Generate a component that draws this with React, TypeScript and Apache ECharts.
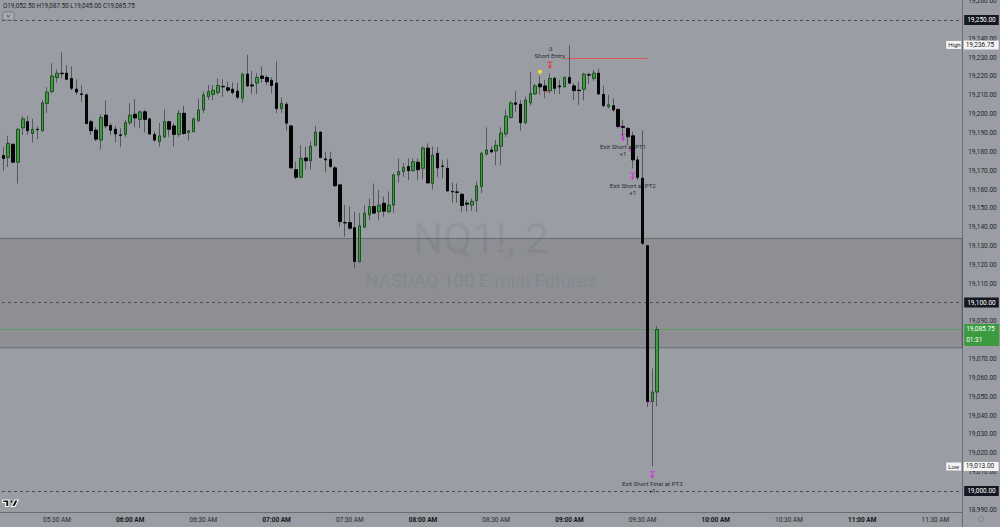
import React, { useEffect, useRef } from 'react';
import * as echarts from 'echarts';

// ---------- data ----------
const START_MINUTE = 5 * 60 + 6; // first visible 2-minute bar 05:06
const BAR_MINUTES = 2;
const SLOT_COUNT = 198; // bars + empty future slots up to 11:40

// [open, high, low, close]
const ohlc: [number, number, number, number][] = [
  [19188.5, 19190.0, 19176.0, 19178.25],
  [19178.0, 19182.75, 19170.0, 19176.5],
  [19177.0, 19188.5, 19172.0, 19184.5],
  [19184.0, 19184.5, 19174.0, 19174.5],
  [19174.5, 19192.5, 19163.25, 19192.0],
  [19192.75, 19199.0, 19189.0, 19197.5],
  [19196.0, 19199.0, 19189.0, 19191.25],
  [19189.75, 19197.5, 19185.0, 19192.0],
  [19192.0, 19193.5, 19186.75, 19191.75],
  [19191.25, 19207.5, 19190.75, 19206.0],
  [19205.75, 19214.25, 19200.75, 19211.75],
  [19212.0, 19227.0, 19211.0, 19220.25],
  [19219.5, 19223.75, 19216.75, 19221.75],
  [19221.75, 19232.75, 19219.0, 19221.5],
  [19221.75, 19226.0, 19218.5, 19218.5],
  [19219.0, 19225.25, 19212.75, 19213.75],
  [19213.25, 19218.5, 19210.25, 19211.75],
  [19210.75, 19215.5, 19206.5, 19210.5],
  [19210.25, 19211.0, 19194.75, 19195.0],
  [19196.0, 19197.0, 19189.0, 19191.25],
  [19191.5, 19193.0, 19185.75, 19186.75],
  [19186.25, 19200.0, 19181.25, 19198.25],
  [19199.5, 19207.25, 19192.5, 19193.75],
  [19194.0, 19195.25, 19189.0, 19191.5],
  [19192.0, 19193.75, 19185.0, 19189.5],
  [19189.0, 19192.5, 19182.5, 19188.75],
  [19189.25, 19197.0, 19188.0, 19195.5],
  [19195.5, 19205.75, 19194.25, 19199.5],
  [19200.0, 19208.0, 19193.0, 19198.0],
  [19197.25, 19201.75, 19192.5, 19201.25],
  [19201.25, 19202.25, 19190.25, 19197.25],
  [19197.5, 19198.25, 19189.0, 19189.5],
  [19189.25, 19190.75, 19185.5, 19186.25],
  [19185.5, 19195.25, 19182.75, 19188.5],
  [19188.0, 19202.5, 19187.25, 19196.0],
  [19196.0, 19196.5, 19188.0, 19192.0],
  [19193.75, 19195.25, 19183.0, 19189.25],
  [19189.25, 19202.25, 19188.0, 19200.5],
  [19200.5, 19204.5, 19189.0, 19189.75],
  [19190.25, 19191.5, 19186.0, 19191.25],
  [19190.75, 19198.25, 19190.25, 19197.5],
  [19196.5, 19208.0, 19196.0, 19202.25],
  [19202.25, 19212.0, 19200.5, 19210.25],
  [19209.25, 19215.5, 19207.5, 19212.0],
  [19210.5, 19215.5, 19207.5, 19212.75],
  [19211.5, 19219.0, 19210.25, 19215.25],
  [19214.75, 19218.5, 19209.25, 19214.5],
  [19214.0, 19217.25, 19211.5, 19212.75],
  [19213.25, 19216.75, 19210.25, 19211.5],
  [19212.25, 19216.75, 19208.0, 19209.0],
  [19208.5, 19222.0, 19206.0, 19221.25],
  [19221.25, 19231.5, 19214.5, 19215.0],
  [19215.5, 19223.0, 19210.75, 19215.0],
  [19216.5, 19221.75, 19210.75, 19219.5],
  [19220.25, 19225.5, 19216.75, 19219.0],
  [19219.5, 19220.75, 19215.5, 19217.25],
  [19218.0, 19219.5, 19211.0, 19215.25],
  [19216.5, 19228.0, 19200.5, 19203.0],
  [19203.0, 19209.0, 19200.75, 19205.75],
  [19205.25, 19206.5, 19191.25, 19195.25],
  [19193.75, 19194.25, 19171.25, 19171.5],
  [19170.5, 19174.75, 19165.5, 19166.5],
  [19166.5, 19183.5, 19166.0, 19176.5],
  [19176.75, 19182.75, 19170.75, 19175.25],
  [19175.25, 19185.5, 19170.5, 19183.0],
  [19183.5, 19193.75, 19183.0, 19190.5],
  [19190.5, 19190.75, 19176.5, 19177.0],
  [19176.25, 19180.0, 19169.0, 19175.75],
  [19176.0, 19180.0, 19171.25, 19172.25],
  [19171.5, 19172.5, 19161.5, 19162.0],
  [19162.5, 19162.5, 19140.25, 19143.0],
  [19142.5, 19151.75, 19135.0, 19142.25],
  [19142.5, 19151.0, 19138.5, 19139.5],
  [19139.75, 19148.25, 19118.25, 19121.75],
  [19121.75, 19147.5, 19121.25, 19140.75],
  [19140.0, 19151.75, 19139.5, 19147.5],
  [19146.5, 19155.25, 19143.75, 19151.0],
  [19151.0, 19163.25, 19147.0, 19147.5],
  [19148.25, 19159.75, 19143.75, 19151.75],
  [19152.75, 19156.25, 19145.5, 19148.5],
  [19148.25, 19159.0, 19147.5, 19151.75],
  [19151.75, 19168.5, 19147.75, 19167.75],
  [19167.75, 19176.5, 19163.75, 19169.5],
  [19169.5, 19174.0, 19166.75, 19171.75],
  [19172.25, 19176.5, 19165.0, 19170.0],
  [19170.0, 19176.5, 19169.5, 19174.75],
  [19174.5, 19176.5, 19165.0, 19170.5],
  [19171.25, 19183.0, 19165.5, 19182.0],
  [19182.0, 19184.5, 19163.25, 19163.5],
  [19163.25, 19182.75, 19160.0, 19178.25],
  [19179.25, 19182.75, 19166.5, 19171.5],
  [19172.5, 19175.75, 19166.0, 19172.25],
  [19171.25, 19176.0, 19159.0, 19159.25],
  [19159.0, 19163.75, 19153.0, 19158.75],
  [19158.75, 19163.25, 19153.0, 19158.5],
  [19157.5, 19158.0, 19148.25, 19151.5],
  [19152.75, 19154.5, 19148.25, 19152.25],
  [19151.75, 19155.25, 19148.75, 19153.75],
  [19154.0, 19164.25, 19148.25, 19162.0],
  [19161.5, 19180.0, 19158.0, 19179.25],
  [19178.75, 19193.0, 19178.25, 19181.0],
  [19181.0, 19183.0, 19179.25, 19180.0],
  [19180.5, 19186.5, 19173.0, 19183.5],
  [19183.0, 19193.0, 19173.0, 19190.0],
  [19189.5, 19202.25, 19188.0, 19199.0],
  [19198.25, 19207.0, 19197.75, 19206.0],
  [19206.0, 19212.25, 19201.25, 19205.25],
  [19205.25, 19207.5, 19191.25, 19195.5],
  [19195.5, 19209.25, 19194.75, 19207.5],
  [19206.0, 19222.5, 19204.5, 19211.0],
  [19210.75, 19216.0, 19210.25, 19215.0],
  [19216.0, 19220.25, 19210.25, 19214.5],
  [19215.0, 19218.25, 19208.5, 19212.5],
  [19212.5, 19221.75, 19211.0, 19219.0],
  [19219.0, 19220.0, 19210.75, 19213.75],
  [19215.0, 19218.25, 19210.75, 19214.5],
  [19214.5, 19220.0, 19214.25, 19219.5],
  [19219.5, 19236.75, 19216.0, 19216.5],
  [19215.0, 19216.5, 19207.5, 19212.5],
  [19212.75, 19217.25, 19205.0, 19212.5],
  [19213.25, 19222.0, 19207.25, 19221.25],
  [19221.0, 19222.0, 19216.0, 19220.75],
  [19219.0, 19223.5, 19217.75, 19221.75],
  [19221.75, 19224.25, 19210.25, 19210.75],
  [19210.5, 19215.0, 19203.75, 19204.5],
  [19204.0, 19210.25, 19203.0, 19205.0],
  [19204.5, 19208.5, 19201.25, 19202.25],
  [19202.5, 19203.0, 19192.5, 19193.5],
  [19193.5, 19197.0, 19188.0, 19193.0],
  [19192.5, 19193.0, 19183.5, 19188.0],
  [19188.5, 19190.75, 19171.25, 19175.75],
  [19175.75, 19178.0, 19165.0, 19166.5],
  [19166.0, 19191.5, 19130.5, 19131.5],
  [19130.25, 19130.5, 19044.5, 19047.5],
  [19047.5, 19065.0, 19013.0, 19052.5],
  [19052.5, 19087.5, 19045.0, 19085.75],
];

const alertLevels = [19250, 19100, 19000];
const lastPrice = 19085.75;
const countdownText = '01:31';
const sessionHigh = 19236.75;
const sessionLow = 19013.0;
const zoneTop = 19134;
const zoneBottom = 19076;
const entryLineStartBar = 116;
const entryLineEndBar = 133;
const entryLinePrice = 19229.5;
const signalDot = { bar: 111, price: 19222.5 };
const strategyMarks = [
  { bar: 113, price: 19226.0, text: '-3\nShort Entry', side: 'entry' },
  { bar: 128, price: 19187.6, text: 'Exit Short at PT1\n+1', side: 'exit' },
  { bar: 130, price: 19167.0, text: 'Exit Short at PT2\n+1', side: 'exit' },
  { bar: 134, price: 19008.5, text: 'Exit Short Final at PT3\n+1', side: 'exit' },
];
const fillTicks = [
  { bar: 113, price: 19212.3, side: 'entry' },
  { bar: 128, price: 19193.4, side: 'exit' },
  { bar: 130, price: 19181.0, side: 'exit' },
  { bar: 134, price: 19047.4, side: 'exit' },
];
const headerText = 'O19,052.50 H19,087.50 L19,045.00 C19,085.75';
const watermarkTitle = 'NQ1!, 2';
const watermarkSubtitle = 'NASDAQ 100 E-mini Futures';

// ---------- styling ----------
const BG = '#9b9da4';
const FONT = 'Roboto, "Noto Sans", "DejaVu Sans", sans-serif';
const TEXT = '#1c1d22';
const AXIS = '#6b6d73';
const UP = '#3f9c43';
const UP_BORDER = '#1d4f20';
const DOWN = '#050505';
const WICK = '#55575d';
const MAGENTA = '#d633e8';
const RED = '#e53935';

const pad2 = (n: number) => String(n).padStart(2, '0');
const times = Array.from({ length: SLOT_COUNT }, (_, i) => {
  const m = START_MINUTE + i * BAR_MINUTES;
  return `${pad2(Math.floor(m / 60))}:${pad2(m % 60)}`;
});
const fmtPrice = (v: number) =>
  v.toLocaleString('en-US', { minimumFractionDigits: 2, maximumFractionDigits: 2 });

const wickData = ohlc.map(([o, h, l, c]) => [o, c, l, h]);
const bodyData = ohlc.map(([o, , , c]) => [o, c, Math.min(o, c), Math.max(o, c)]);

const ARROW = 'path://M0,0H10V2H6V9H9L5,16L1,9H4V2H0Z';

function buildOption(): any {
  const priceBox = {
    show: true,
    position: 'end',
    distance: [2, 0],
    backgroundColor: '#131722',
    color: '#ffffff',
    padding: [2, 3, 1, 3],
    fontSize: 6.5,
    fontFamily: FONT,
  };
  const markLineData: any[] = [
    ...alertLevels.map((v) => ({
      yAxis: v,
      lineStyle: { type: [3, 3], color: '#4d4f55', width: 1 },
      label: { ...priceBox, formatter: fmtPrice(v) },
    })),
    {
      yAxis: lastPrice,
      lineStyle: { type: 'solid', color: '#5d9960', width: 1 },
      label: {
        show: true,
        position: 'end',
        distance: [2, 0],
        formatter: `{s| }\n{a|${fmtPrice(lastPrice)}}\n{b|${countdownText}}`,
        rich: {
          s: { height: 11, lineHeight: 11, fontSize: 6.5 },
          a: {
            width: 31, height: 11, lineHeight: 11, padding: [0, 2], align: 'left',
            backgroundColor: '#3c9a40', color: '#fff', fontSize: 6.5, fontFamily: FONT,
          },
          b: {
            width: 31, height: 11, lineHeight: 11, padding: [0, 2], align: 'left',
            backgroundColor: '#3c9a40', color: '#fff', fontSize: 6.5, fontFamily: FONT,
          },
        },
      },
    },
    ...[
      { v: sessionHigh, name: 'High' },
      { v: sessionLow, name: 'Low' },
    ].map(({ v, name }) => ({
      yAxis: v,
      lineStyle: { color: 'rgba(0,0,0,0)', width: 0 },
      label: {
        show: true,
        position: 'end',
        distance: [-16, 0],
        formatter: `{h|${name}}{g| }{v|${fmtPrice(v)}}`,
        rich: {
          h: {
            width: 11, padding: [1, 2], backgroundColor: '#f4f4f6', color: TEXT,
            fontSize: 6, fontFamily: FONT, align: 'left',
          },
          g: { width: 2.5, fontSize: 6 },
          v: {
            width: 31, padding: [1, 2], backgroundColor: '#f4f4f6', color: TEXT,
            fontSize: 6.5, fontFamily: FONT, align: 'left',
          },
        },
      },
    })),
    [
      {
        coord: [entryLineStartBar, entryLinePrice],
        lineStyle: { type: 'solid', color: '#e25555', width: 1 },
        label: { show: false },
      },
      { coord: [entryLineEndBar, entryLinePrice] },
    ],
  ];

  const markPointData: any[] = [
    {
      coord: [signalDot.bar, signalDot.price],
      symbol: 'circle',
      symbolSize: 4,
      itemStyle: { color: '#f2e22c' },
      label: { show: false },
    },
    ...strategyMarks.map((m) => ({
      coord: [m.bar, m.price],
      symbol: ARROW,
      symbolSize: [5, 7.5],
      itemStyle: { color: m.side === 'entry' ? RED : MAGENTA },
      label: {
        show: true,
        formatter: m.text,
        position: m.side === 'entry' ? 'top' : 'bottom',
        distance: 2,
        fontSize: 6.2,
        lineHeight: 7,
        color: '#2b2c31',
        fontFamily: FONT,
        align: 'center',
      },
    })),
    ...fillTicks.map((f) => ({
      coord: [f.bar, f.price],
      symbol: 'triangle',
      symbolRotate: -90,
      symbolOffset: [-2, 0],
      symbolSize: [3, 3],
      itemStyle: { color: f.side === 'entry' ? RED : MAGENTA },
      label: { show: false },
    })),
  ];

  return {
    animation: false,
    backgroundColor: BG,
    textStyle: { fontFamily: FONT },
    grid: { left: -4.02, right: 37.8, top: 0, bottom: 15, outerBoundsMode: 'none', containLabel: false },
    xAxis: {
      type: 'category',
      data: times,
      boundaryGap: true,
      axisLine: { show: true, lineStyle: { color: AXIS, width: 1 } },
      axisTick: { show: false },
      splitLine: { show: false },
      axisLabel: {
        margin: 4,
        interval: (_i: number, v: string) => v.endsWith(':00') || v.endsWith(':30'),
        formatter: (v: string) => (v.endsWith(':00') ? `{b|${v} AM}` : `{n|${v} AM}`),
        rich: {
          b: { fontSize: 6.5, fontWeight: 'bold', color: '#15161a', fontFamily: FONT },
          n: { fontSize: 6.5, color: '#2a2b30', fontFamily: FONT },
        },
      },
    },
    yAxis: {
      type: 'value',
      position: 'right',
      min: 18988.85,
      max: 19260.6,
      splitNumber: 27,
      axisLine: { show: true, lineStyle: { color: AXIS, width: 1 } },
      axisTick: { show: false },
      splitLine: { show: false },
      axisLabel: {
        margin: 6,
        fontSize: 6.5,
        color: '#25262b',
        fontFamily: FONT,
        showMinLabel: false,
        showMaxLabel: false,
        formatter: (v: number) =>
          Math.abs(v / 10 - Math.round(v / 10)) < 1e-6 ? fmtPrice(v) : '',
      },
    },
    graphic: [
      {
        type: 'text', x: 481, y: 238, z: 0, silent: true,
        style: {
          text: watermarkTitle, fontSize: 42, fontFamily: FONT,
          fill: 'rgba(60,62,70,0.11)', align: 'center', verticalAlign: 'middle',
        },
      },
      {
        type: 'text', x: 481, y: 281, z: 0, silent: true,
        style: {
          text: watermarkSubtitle, fontSize: 18.5, fontFamily: FONT,
          fill: 'rgba(60,62,70,0.11)', align: 'center', verticalAlign: 'middle',
        },
      },
      {
        type: 'text', x: 3, y: 6, z: 10, silent: true,
        style: { text: headerText, fontSize: 6.3, fontFamily: FONT, fill: '#1e1f24', verticalAlign: 'middle' },
      },
      {
        type: 'rect', z: 10, silent: true,
        shape: { x: 2.7, y: 12, width: 11.3, height: 8, r: 1.5 },
        style: { fill: 'rgba(255,255,255,0.15)', stroke: '#6f7177', lineWidth: 0.8 },
      },
      {
        type: 'polyline', z: 11, silent: true,
        shape: { points: [[6.6, 15.2], [8.35, 16.8], [10.1, 15.2]] },
        style: { stroke: '#2a2b30', lineWidth: 0.8, fill: null },
      },
      {
        type: 'line', z: 10, silent: true,
        shape: { x1: 962.5, y1: 512, x2: 962.5, y2: 527 },
        style: { stroke: AXIS, lineWidth: 1 },
      },
      {
        type: 'circle', z: 10, silent: true,
        shape: { cx: 981, cy: 519, r: 2.6 },
        style: { fill: 'none', stroke: '#7c7e84', lineWidth: 0.8 },
      },
      {
        type: 'tvlogo', x: 2.7, y: 498.6, scaleX: 0.44, scaleY: 0.36, z: 10, silent: true,
        style: { fill: '#111', stroke: '#fff', lineWidth: 1, strokeNoScale: true },
      },
      {
        type: 'circle', z: 11, silent: true,
        shape: { cx: 11.5, cy: 501.4, r: 1.4 },
        style: { fill: '#111', stroke: '#fff', lineWidth: 0.6 },
      },
    ],
    series: [
      {
        name: 'wick',
        type: 'candlestick',
        data: wickData,
        barWidth: 1,
        z: 2,
        itemStyle: { color: WICK, color0: WICK, borderColor: WICK, borderColor0: WICK, borderWidth: 1 },
        markArea: {
          silent: true,
          z: 1,
          itemStyle: { color: 'rgba(0,0,0,0.085)', borderColor: 'rgba(55,57,64,0.45)', borderWidth: 1 },
          data: [[{ yAxis: zoneTop }, { yAxis: zoneBottom }]],
        },
        markLine: {
          silent: true,
          z: 1,
          symbol: ['none', 'none'],
          data: markLineData,
        },
        markPoint: {
          silent: true,
          z: 1,
          data: markPointData,
        },
      },
      {
        name: 'body',
        type: 'candlestick',
        data: bodyData,
        barWidth: 3,
        z: 3,
        itemStyle: { color: UP, color0: DOWN, borderColor: UP_BORDER, borderColor0: DOWN, borderWidth: 1 },
      },
    ],
  };
}

let logoRegistered = false;
function registerLogo() {
  if (logoRegistered) return;
  logoRegistered = true;
  (echarts as any).graphic.registerShape(
    'tvlogo',
    (echarts as any).graphic.extendPath('M14 22H7V11H0V4h14v18zM28 22h-8l7.5-18h8L28 22z', {})
  );
}

export default function App() {
  const ref = useRef<HTMLDivElement>(null);
  useEffect(() => {
    document.body.style.margin = '0';
    registerLogo();
    const chart = echarts.init(ref.current!, null, { renderer: 'svg' });
    chart.setOption(buildOption());
    return () => chart.dispose();
  }, []);
  return <div ref={ref} style={{ width: 1000, height: 527, background: BG }} />;
}
